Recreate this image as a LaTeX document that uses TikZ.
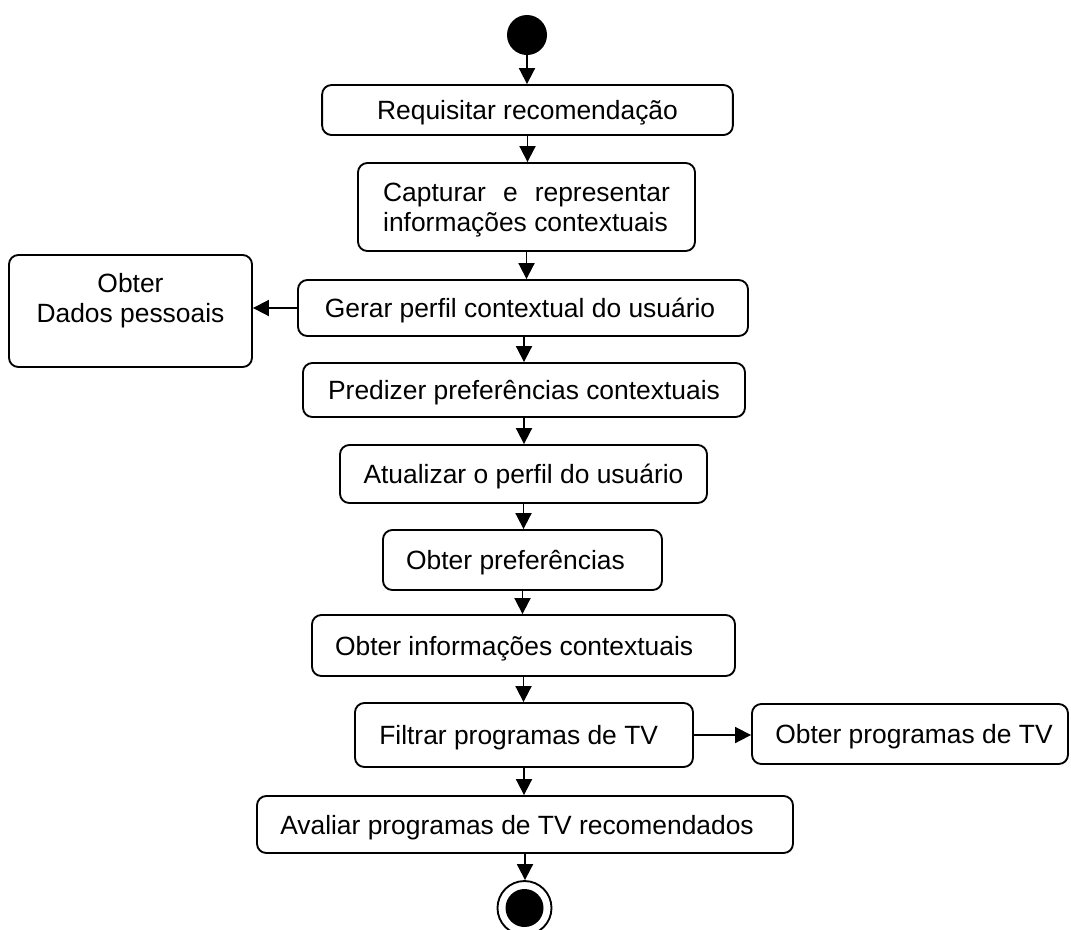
\documentclass[tikz,border=0pt]{standalone}
\usepackage{fontspec}
\setmainfont{Liberation Sans}
\usetikzlibrary{arrows.meta}
\tikzset{
    act/.style={draw, rounded corners=7pt, line width=1.4pt, align=center, inner sep=0pt,
        text depth=0pt, font=\fontsize{19.8}{22.5}\selectfont},
    flow/.style={-{Triangle[length=12pt,width=12pt]}, line width=1.4pt},
    dot/.style={circle, fill=black, inner sep=0pt},
}
\begin{document}
\begin{tikzpicture}[x=0.75pt,y=-0.75pt]
    \useasboundingbox (0,0) rectangle (1071,929);
    \clip (0,0) rectangle (1071,929);

    \node[dot, minimum size=30pt] (inicio) at (527,35) {};

    \node[act, minimum width=308pt, minimum height=37.5pt] (req) at (527.5,110) {Requisitar recomendação};
    \node[act, minimum width=252.75pt, minimum height=66pt, text width=215pt, align=justify, text depth=22pt] (capt) at (526.5,207)
        {Capturar e representar\linebreak informações contextuais};
    \node[act, minimum width=337.5pt, minimum height=42pt] (gerar) at (523,308) {Gerar perfil contextual do usuário\hspace{4.5pt}};
    \node[act, minimum width=182.25pt, minimum height=84pt, text depth=19pt] (dados) at (130.5,311) {Obter\\Dados pessoais};
    \node[act, minimum width=331.5pt, minimum height=40.5pt] (pred) at (524,390) {Predizer preferências contextuais};
    \node[act, minimum width=275.25pt, minimum height=43.5pt] (atual) at (523.5,474) {Atualizar o perfil do usuário};
    \node[act, minimum width=209.25pt, minimum height=45pt] (pref) at (522.5,560) {Obter preferências\hspace{10.5pt}};
    \node[act, minimum width=317.25pt, minimum height=45.75pt] (info) at (523.5,645.5) {Obter informações contextuais\hspace{14pt}};
    \node[act, minimum width=253.5pt, minimum height=48pt] (filtrar) at (524,735) {Filtrar programas de TV\hspace{8pt}};
    \node[act, minimum width=237pt, minimum height=45pt] (progs) at (910,734) {\hspace{6pt}Obter programas de TV};
    \node[act, minimum width=402pt, minimum height=42.75pt] (avaliar) at (525,824.5) {Avaliar programas de TV recomendados\hspace{12pt}};

    \node[circle, draw, line width=1.4pt, minimum size=40.5pt, inner sep=0pt] (fim) at (524.5,908) {};
    \node[dot, minimum size=28.5pt] (fimdot) at (fim) {};

    % fluxo principal
    \draw[flow] (inicio.south) -- (inicio.south |- req.north);
    \draw[flow] (req.south) -- (req.south |- capt.north);
    \draw[flow] (capt.south) -- (capt.south |- gerar.north);
    \draw[flow] (pred.north |- gerar.south) -- (pred.north);
    \draw[flow] (pred.south) -- (pred.south |- atual.north);
    \draw[flow] (atual.south) -- (atual.south |- pref.north);
    \draw[flow] (pref.south) -- (pref.south |- info.north);
    \draw[flow] (info.south) -- (info.south |- filtrar.north);
    \draw[flow] (filtrar.south) -- (filtrar.south |- avaliar.north);
    \draw[flow] (avaliar.south) -- (avaliar.south |- fim.north);

    % desvios laterais
    \draw[flow] (gerar.west) -- (gerar.west -| dados.east);
    \draw[flow] (filtrar.east) -- (filtrar.east -| progs.west);
\end{tikzpicture}
\end{document}
